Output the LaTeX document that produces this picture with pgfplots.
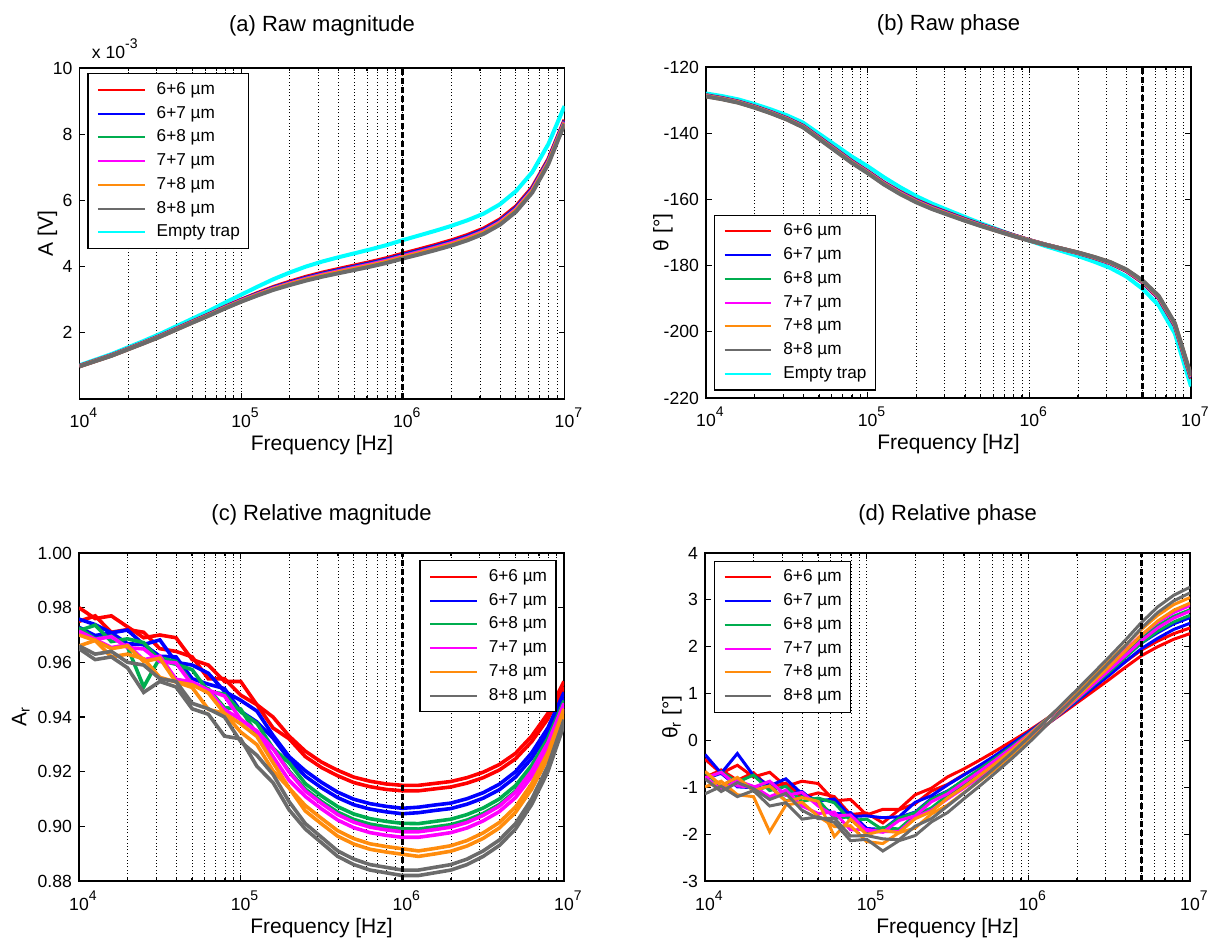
\documentclass[border=0pt]{standalone}
\usepackage{fontspec}
\setmainfont{Liberation Sans}
\usepackage{pgfplots}
\usepackage{pgfplotstable}
\pgfplotsset{compat=1.18}

\definecolor{cR}{rgb}{1,0,0}
\definecolor{cB}{rgb}{0,0,1}
\definecolor{cG}{rgb}{0,0.68,0.31}
\definecolor{cM}{rgb}{1,0,1}
\definecolor{cO}{rgb}{1,0.55,0.05}
\definecolor{cK}{rgb}{0.42,0.42,0.42}
\definecolor{cC}{rgb}{0,1,1}

\newcommand{\supx}[1]{\rlap{\raisebox{5pt}{\fontsize{7}{7}\selectfont #1}}}

% (a) raw magnitude, x 10^-3 V
\pgfplotstableread{
f r b g m o k e
1e4 0.997 0.994 0.991 0.990 0.988 0.985 1.020
1.2589e4 1.162 1.158 1.155 1.154 1.152 1.148 1.190
1.5849e4 1.326 1.322 1.318 1.317 1.314 1.310 1.360
1.9953e4 1.518 1.513 1.509 1.508 1.504 1.499 1.560
2.5119e4 1.710 1.704 1.700 1.698 1.694 1.688 1.760
3.1623e4 1.910 1.903 1.897 1.895 1.890 1.883 1.970
3.9811e4 2.128 2.120 2.113 2.111 2.105 2.097 2.200
5.0119e4 2.345 2.335 2.328 2.325 2.318 2.309 2.430
6.3096e4 2.559 2.547 2.539 2.535 2.527 2.516 2.660
7.9433e4 2.786 2.772 2.762 2.758 2.748 2.735 2.910
1e5 2.999 2.983 2.971 2.966 2.955 2.939 3.150
1.2589e5 3.199 3.179 3.165 3.159 3.145 3.126 3.390
1.5849e5 3.386 3.362 3.345 3.338 3.321 3.298 3.620
1.9953e5 3.544 3.516 3.496 3.488 3.469 3.442 3.820
2.5119e5 3.690 3.659 3.636 3.627 3.606 3.576 4.000
3.1623e5 3.816 3.783 3.759 3.749 3.726 3.694 4.150
3.9811e5 3.926 3.891 3.865 3.854 3.830 3.796 4.280
5.0119e5 4.033 3.997 3.970 3.959 3.933 3.898 4.400
6.3096e5 4.139 4.101 4.074 4.063 4.036 4.000 4.520
7.9433e5 4.255 4.216 4.187 4.176 4.148 4.111 4.650
1e6 4.392 4.352 4.322 4.310 4.282 4.243 4.800
1.2589e6 4.520 4.479 4.448 4.436 4.407 4.367 4.940
1.5849e6 4.652 4.610 4.579 4.566 4.537 4.496 5.080
1.9953e6 4.793 4.750 4.718 4.706 4.675 4.634 5.230
2.5119e6 4.956 4.913 4.880 4.867 4.837 4.795 5.400
3.1623e6 5.151 5.108 5.075 5.062 5.032 4.990 5.600
3.9811e6 5.425 5.381 5.349 5.336 5.305 5.263 5.880
5.0119e6 5.820 5.776 5.744 5.731 5.700 5.658 6.280
6.3096e6 6.391 6.349 6.317 6.305 6.275 6.234 6.850
7.9433e6 7.248 7.208 7.178 7.166 7.138 7.099 7.700
1e7 8.434 8.401 8.376 8.366 8.342 8.310 8.850
}\tabA

% (b) raw phase
\pgfplotstableread{
f r b g m o k e
1e4 -128.55 -128.64 -128.71 -128.74 -128.81 -128.90 -128.0
1.2589e4 -129.40 -129.49 -129.56 -129.59 -129.66 -129.75 -128.8
1.5849e4 -130.45 -130.54 -130.61 -130.64 -130.71 -130.80 -129.8
1.9953e4 -131.90 -132.00 -132.07 -132.11 -132.19 -132.28 -131.2
2.5119e4 -133.58 -133.68 -133.76 -133.79 -133.87 -133.97 -132.8
3.1623e4 -135.46 -135.57 -135.65 -135.69 -135.78 -135.88 -134.6
3.9811e4 -137.75 -137.87 -137.96 -138.01 -138.10 -138.22 -136.8
5.0119e4 -141.26 -141.39 -141.49 -141.54 -141.64 -141.77 -140.2
6.3096e4 -144.80 -144.94 -145.05 -145.10 -145.21 -145.35 -143.6
7.9433e4 -148.36 -148.50 -148.61 -148.67 -148.78 -148.92 -147.0
1e5 -151.52 -151.66 -151.77 -151.83 -151.94 -152.08 -150.0
1.2589e5 -154.88 -155.03 -155.15 -155.21 -155.33 -155.48 -153.3
1.5849e5 -157.72 -157.89 -158.02 -158.08 -158.22 -158.38 -156.3
1.9953e5 -160.20 -160.37 -160.51 -160.57 -160.71 -160.88 -159.0
2.5119e5 -162.29 -162.46 -162.59 -162.65 -162.79 -162.95 -161.3
3.1623e5 -164.10 -164.25 -164.37 -164.43 -164.55 -164.70 -163.3
3.9811e5 -165.91 -166.04 -166.14 -166.20 -166.30 -166.43 -165.3
5.0119e5 -167.62 -167.73 -167.81 -167.86 -167.94 -168.05 -167.2
6.3096e5 -169.22 -169.31 -169.37 -169.41 -169.48 -169.56 -169.0
7.9433e5 -170.81 -170.87 -170.92 -170.95 -171.00 -171.06 -170.8
1e6 -172.30 -172.33 -172.36 -172.38 -172.40 -172.44 -172.5
1.2589e6 -173.67 -173.68 -173.68 -173.69 -173.69 -173.70 -174.1
1.5849e6 -174.93 -174.91 -174.90 -174.89 -174.88 -174.86 -175.6
1.9953e6 -176.18 -176.14 -176.11 -176.09 -176.06 -176.02 -177.1
2.5119e6 -177.63 -177.56 -177.51 -177.49 -177.43 -177.37 -178.8
3.1623e6 -179.28 -179.19 -179.12 -179.08 -179.01 -178.92 -180.7
3.9811e6 -181.62 -181.50 -181.41 -181.37 -181.27 -181.16 -183.3
5.0119e6 -185.07 -184.92 -184.80 -184.75 -184.63 -184.48 -187.0
6.3096e6 -189.88 -189.70 -189.55 -189.48 -189.33 -189.15 -192.0
7.9433e6 -198.22 -198.01 -197.85 -197.77 -197.60 -197.40 -200.5
1e7 -214.10 -213.88 -213.71 -213.62 -213.45 -213.23 -216.5
}\tabB

% (c) relative magnitude, two traces per group
\pgfplotstableread{
f rA rB bA bB gA gB mA mB oA oB kA kB
1e4 0.980 0.975 0.9758 0.9728 0.9716 0.9726 0.9714 0.9704 0.970 0.966 0.966 0.965
1.2589e4 0.976 0.977 0.9738 0.9698 0.9736 0.9686 0.9684 0.9684 0.968 0.968 0.963 0.961
1.5849e4 0.977 0.971 0.9708 0.9708 0.9676 0.9696 0.9694 0.9654 0.965 0.962 0.964 0.962
1.9953e4 0.973 0.972 0.9718 0.9668 0.9686 0.9656 0.9654 0.9664 0.966 0.963 0.960 0.958
2.5119e4 0.969 0.971 0.9665 0.9665 0.9672 0.951 0.9649 0.9609 0.9603 0.9613 0.959 0.949
3.1623e4 0.970 0.965 0.9682 0.9622 0.9607 0.9617 0.9603 0.9623 0.9615 0.9545 0.954 0.953
3.9811e4 0.969 0.964 0.960 0.962 0.9593 0.9603 0.9598 0.9538 0.9528 0.9528 0.953 0.951
5.0119e4 0.961 0.962 0.959 0.954 0.9573 0.9523 0.9518 0.9528 0.9518 0.9508 0.945 0.943
6.3096e4 0.959 0.954 0.956 0.952 0.9493 0.9503 0.9498 0.9498 0.9488 0.9428 0.943 0.941
7.9433e4 0.953 0.954 0.9494 0.9504 0.9484 0.9434 0.9477 0.9427 0.9413 0.9413 0.940 0.933
1e5 0.953 0.948 0.9461 0.9421 0.9419 0.9429 0.9391 0.9391 0.9375 0.9345 0.931 0.932
1.2589e5 0.9445 0.9445 0.9422 0.9382 0.9377 0.9337 0.9348 0.9348 0.9329 0.9299 0.926 0.922
1.5849e5 0.940 0.936 0.9333 0.9323 0.9286 0.9286 0.9285 0.9255 0.9233 0.9203 0.919 0.916
1.9953e5 0.933 0.932 0.9255 0.9245 0.9232 0.9202 0.9198 0.9168 0.914 0.914 0.909 0.906
2.5119e5 0.9275 0.9255 0.9203 0.9183 0.9156 0.9136 0.9129 0.9109 0.9076 0.9056 0.901 0.899
3.1623e5 0.9235 0.9215 0.9161 0.9141 0.9111 0.9091 0.9084 0.9064 0.9029 0.9009 0.896 0.894
3.9811e5 0.9205 0.9185 0.9125 0.9105 0.9072 0.9052 0.9043 0.9023 0.8984 0.8964 0.891 0.889
5.0119e5 0.918 0.916 0.9099 0.9079 0.9045 0.9025 0.9015 0.8995 0.8955 0.8935 0.888 0.886
6.3096e5 0.9165 0.9145 0.9083 0.9063 0.9028 0.9008 0.8997 0.8977 0.8936 0.8916 0.886 0.884
7.9433e5 0.9155 0.9135 0.9073 0.9053 0.9018 0.8998 0.8987 0.8967 0.8926 0.8906 0.885 0.883
1e6 0.915 0.913 0.9066 0.9046 0.9011 0.8991 0.898 0.896 0.8918 0.8898 0.884 0.882
1.2589e6 0.915 0.913 0.907 0.905 0.901 0.899 0.898 0.896 0.891 0.889 0.884 0.882
1.5849e6 0.9157 0.9137 0.9078 0.9058 0.9018 0.8998 0.8988 0.8968 0.8919 0.8899 0.885 0.883
1.9953e6 0.9164 0.9144 0.9085 0.9065 0.9026 0.9006 0.8997 0.8977 0.8929 0.8909 0.886 0.884
2.5119e6 0.9178 0.9158 0.9101 0.9081 0.9043 0.9023 0.9014 0.8994 0.8948 0.8928 0.888 0.886
3.1623e6 0.9198 0.9178 0.9123 0.9103 0.9067 0.9047 0.904 0.902 0.8976 0.8956 0.891 0.889
3.9811e6 0.9226 0.9206 0.9154 0.9134 0.910 0.908 0.9074 0.9054 0.9014 0.8994 0.895 0.893
5.0119e6 0.9267 0.9247 0.920 0.918 0.9149 0.9129 0.9125 0.9105 0.9071 0.9051 0.901 0.899
6.3096e6 0.933 0.931 0.9269 0.9249 0.9223 0.9203 0.9202 0.9182 0.9156 0.9136 0.910 0.908
7.9433e6 0.9413 0.9393 0.936 0.934 0.9321 0.9301 0.9305 0.9285 0.9269 0.9249 0.922 0.920
1e7 0.953 0.951 0.949 0.947 0.946 0.944 0.945 0.943 0.943 0.941 0.939 0.937
}\tabC

% (d) relative phase, two traces per group
\pgfplotstableread{
f rA rB bA bB gA gB mA mB oA oB kA kB
1e4 -0.40 -0.79 -0.30 -0.82 -0.83 -0.68 -0.80 -0.78 -0.66 -0.99 -0.82 -1.14
1.2589e4 -0.70 -0.63 -0.70 -0.70 -0.67 -0.98 -0.68 -1.05 -0.96 -0.87 -1.09 -0.98
1.5849e4 -0.53 -0.85 -0.28 -0.99 -0.89 -0.81 -0.97 -0.86 -0.79 -1.16 -0.90 -1.20
1.9953e4 -0.78 -0.69 -0.75 -1.01 -0.74 -1.07 -1.00 -0.98 -1.07 -1.20 -1.03 -1.07
2.5119e4 -0.68 -1.01 -0.97 -0.88 -1.07 -0.98 -0.87 -1.20 -0.97 -1.95 -1.26 -1.40
3.1623e4 -0.98 -0.91 -0.82 -1.17 -0.98 -1.29 -1.17 -1.06 -1.30 -1.38 -1.13 -1.33
3.9811e4 -0.87 -1.21 -1.14 -1.09 -1.30 -1.20 -1.11 -1.40 -1.22 -1.32 -1.49 -1.68
5.0119e4 -0.92 -1.12 -1.29 -1.37 -1.23 -1.27 -1.40 -1.56 -1.30 -1.62 -1.67 -1.63
6.3096e4 -1.29 -1.20 -1.25 -1.57 -1.33 -1.66 -1.61 -1.53 -2.05 -1.84 -1.66 -1.75
7.9433e4 -1.26 -1.58 -1.62 -1.54 -1.71 -1.63 -1.59 -1.91 -1.68 -1.82 -2.04 -2.14
1e5 -1.59 -1.55 -1.61 -1.88 -1.68 -1.96 -1.93 -1.90 -2.01 -2.16 -2.03 -2.11
1.2589e5 -1.47 -1.76 -1.65 -1.90 -1.91 -1.86 -1.96 -1.95 -1.92 -2.20 -2.10 -2.36
1.5849e5 -1.47 -1.48 -1.63 -1.64 -1.66 -1.89 -1.71 -1.94 -1.97 -1.97 -2.12 -2.14
1.9953e5 -1.16 -1.35 -1.32 -1.53 -1.54 -1.59 -1.61 -1.64 -1.67 -1.87 -1.83 -2.03
2.5119e5 -1.02 -1.08 -1.18 -1.24 -1.26 -1.44 -1.31 -1.49 -1.52 -1.57 -1.67 -1.74
3.1623e5 -0.78 -0.94 -0.95 -1.08 -1.09 -1.17 -1.14 -1.25 -1.23 -1.38 -1.40 -1.54
3.9811e5 -0.61 -0.73 -0.74 -0.86 -0.84 -0.96 -0.90 -1.02 -1.00 -1.12 -1.13 -1.25
5.0119e5 -0.42 -0.54 -0.53 -0.65 -0.61 -0.73 -0.66 -0.78 -0.74 -0.86 -0.85 -0.97
6.3096e5 -0.22 -0.34 -0.31 -0.43 -0.37 -0.49 -0.41 -0.53 -0.48 -0.60 -0.56 -0.68
7.9433e5 -0.01 -0.13 -0.07 -0.19 -0.12 -0.24 -0.15 -0.27 -0.20 -0.32 -0.26 -0.38
1e6 0.20 0.08 0.17 0.05 0.14 0.02 0.12 0.00 0.10 -0.02 0.06 -0.06
1.2589e6 0.43 0.31 0.42 0.30 0.42 0.30 0.41 0.29 0.41 0.29 0.40 0.28
1.5849e6 0.67 0.55 0.69 0.57 0.70 0.58 0.71 0.59 0.72 0.60 0.74 0.62
1.9953e6 0.92 0.80 0.96 0.84 0.99 0.87 1.01 0.89 1.04 0.92 1.08 0.96
2.5119e6 1.17 1.05 1.24 1.12 1.29 1.17 1.31 1.19 1.37 1.25 1.43 1.31
3.1623e6 1.42 1.30 1.51 1.39 1.58 1.46 1.62 1.50 1.69 1.57 1.78 1.66
3.9811e6 1.68 1.56 1.80 1.68 1.89 1.77 1.93 1.81 2.03 1.91 2.14 2.02
5.0119e6 1.93 1.81 2.08 1.96 2.20 2.08 2.25 2.13 2.37 2.25 2.52 2.40
6.3096e6 2.12 2.00 2.30 2.18 2.45 2.33 2.52 2.40 2.67 2.55 2.85 2.73
7.9433e6 2.28 2.16 2.49 2.37 2.65 2.53 2.73 2.61 2.90 2.78 3.10 2.98
1e7 2.40 2.28 2.62 2.50 2.79 2.67 2.88 2.76 3.05 2.93 3.27 3.15
}\tabD

\pgfplotsset{every axis/.append style={
    scale only axis, width=242.5pt,
    xmin=1e4, xmax=1e7,
    clip mode=individual,
    xtick={1e4,1e5,1e6,1e7},
    xticklabels={10\supx{4},10\supx{5},10\supx{6},10\supx{7}},
    minor xtick={2e4,3e4,4e4,5e4,6e4,7e4,8e4,9e4,2e5,3e5,4e5,5e5,6e5,7e5,8e5,9e5,2e6,3e6,4e6,5e6,6e6,7e6,8e6,9e6},
    xmajorgrids=true, xminorgrids=true,
    major grid style={black, line width=0.45pt, dash pattern=on 0.5pt off 1.2pt},
    minor grid style={black, line width=0.45pt, dash pattern=on 0.5pt off 1.2pt},
    axis line style={line width=0.9pt},
    tick style={black, line width=0.6pt},
    major tick length=2.8pt, minor tick length=1.6pt,
    tick align=inside,
    ticklabel style={font=\fontsize{8.8}{10}\selectfont},
    xticklabel style={anchor=base, yshift=-14.5pt},
    label style={font=\fontsize{10.5}{12}\selectfont},
    title style={font=\fontsize{11}{13}\selectfont, at={(0.5,1)}, anchor=base},
    xlabel={Frequency [Hz]},
    xlabel style={at={(axis description cs:0.5,0)}, anchor=base, yshift=-26pt},
    legend cell align=left,
    legend image code/.code={\draw[#1,line width=1pt] (0pt,0pt) -- (23.4pt,0pt);},
    legend style={font=\fontsize{8.6}{10}\selectfont, draw=black, line width=0.6pt, fill=white,
      inner xsep=4.5pt, inner ysep=2.3pt, row sep=0.4pt, column sep=5.5pt,
      nodes={inner xsep=0pt}},
  }}

\begin{document}
\begin{tikzpicture}
\useasboundingbox (0,0) rectangle (607.5pt,471pt);

% ---------------- (a)
\begin{semilogxaxis}[at={(39.75pt,271.5pt)}, anchor=south west, height=165.5pt,
  ymin=0, ymax=10, ytick={2,4,6,8,10}, yticklabels={2,4,6,8,10},
  ylabel={A [V]}, ylabel style={at={(axis description cs:-0.066,0.5)}, anchor=center},
  title={(a) Raw magnitude}, title style={yshift=12pt},
  legend style={at={(axis description cs:0,1)}, anchor=north west, xshift=3.9pt, yshift=-2.5pt}]
\addplot[cC, line width=2pt, forget plot] table[x=f,y=e]{\tabA};
\addplot[cR, line width=2pt] table[x=f,y=r]{\tabA}; \addlegendentry{6+6 µm}
\addplot[cB, line width=2pt] table[x=f,y=b]{\tabA}; \addlegendentry{6+7 µm}
\addplot[cG, line width=2pt] table[x=f,y=g]{\tabA}; \addlegendentry{6+8 µm}
\addplot[cM, line width=2pt] table[x=f,y=m]{\tabA}; \addlegendentry{7+7 µm}
\addplot[cO, line width=2pt] table[x=f,y=o]{\tabA}; \addlegendentry{7+8 µm}
\addplot[cK, line width=2pt] table[x=f,y=k]{\tabA}; \addlegendentry{8+8 µm}
\addlegendimage{cC, line width=1pt}\addlegendentry{Empty trap}
\addplot[black, line width=1.6pt, dash pattern=on 3pt off 1.5pt, forget plot] coordinates {(1e6,0) (1e6,10)};
\node[anchor=base west, xshift=2.7pt, yshift=4.5pt, font=\fontsize{8.8}{10}\selectfont] at (axis description cs:0,1) {x 10\supx{-3}};
\end{semilogxaxis}

% ---------------- (b)
\begin{semilogxaxis}[at={(353pt,272pt)}, anchor=south west, height=165.5pt,
  ymin=-220, ymax=-120, ytick={-220,-200,-180,-160,-140,-120},
  yticklabels={-220,-200,-180,-160,-140,-120},
  ylabel={θ [°]}, ylabel style={at={(axis description cs:-0.089,0.5)}, anchor=center},
  title={(b) Raw phase}, title style={yshift=12pt},
  legend style={at={(axis description cs:0,0)}, anchor=south west, xshift=4pt, yshift=3.7pt}]
\addplot[cC, line width=2pt, forget plot] table[x=f,y=e]{\tabB};
\addplot[cR, line width=2pt] table[x=f,y=r]{\tabB}; \addlegendentry{6+6 µm}
\addplot[cB, line width=2pt] table[x=f,y=b]{\tabB}; \addlegendentry{6+7 µm}
\addplot[cG, line width=2pt] table[x=f,y=g]{\tabB}; \addlegendentry{6+8 µm}
\addplot[cM, line width=2pt] table[x=f,y=m]{\tabB}; \addlegendentry{7+7 µm}
\addplot[cO, line width=2pt] table[x=f,y=o]{\tabB}; \addlegendentry{7+8 µm}
\addplot[cK, line width=2pt] table[x=f,y=k]{\tabB}; \addlegendentry{8+8 µm}
\addlegendimage{cC, line width=1pt}\addlegendentry{Empty trap}
\addplot[black, line width=1.6pt, dash pattern=on 3pt off 1.5pt, forget plot] coordinates {(5e6,-220) (5e6,-120)};
\end{semilogxaxis}

% ---------------- (c)
\begin{semilogxaxis}[at={(39.5pt,30.5pt)}, anchor=south west, height=164pt,
  ymin=0.88, ymax=1.00, ytick={0.88,0.90,0.92,0.94,0.96,0.98,1.00},
  yticklabels={0.88,0.90,0.92,0.94,0.96,0.98,1.00},
  ylabel={A\textsubscript{r}}, ylabel style={at={(axis description cs:-0.12,0.5)}, anchor=center},
  title={(c) Relative magnitude}, title style={yshift=10pt},
  legend style={at={(axis description cs:1,1)}, anchor=north east, xshift=-3.7pt, yshift=-3.5pt}]
\addplot[cR, line width=1.8pt] table[x=f,y=rA]{\tabC}; \addlegendentry{6+6 µm}
\addplot[cR, line width=1.8pt, forget plot] table[x=f,y=rB]{\tabC};
\addplot[cB, line width=1.8pt] table[x=f,y=bA]{\tabC}; \addlegendentry{6+7 µm}
\addplot[cB, line width=1.8pt, forget plot] table[x=f,y=bB]{\tabC};
\addplot[cG, line width=1.8pt] table[x=f,y=gA]{\tabC}; \addlegendentry{6+8 µm}
\addplot[cG, line width=1.8pt, forget plot] table[x=f,y=gB]{\tabC};
\addplot[cM, line width=1.8pt] table[x=f,y=mA]{\tabC}; \addlegendentry{7+7 µm}
\addplot[cM, line width=1.8pt, forget plot] table[x=f,y=mB]{\tabC};
\addplot[cO, line width=1.8pt] table[x=f,y=oA]{\tabC}; \addlegendentry{7+8 µm}
\addplot[cO, line width=1.8pt, forget plot] table[x=f,y=oB]{\tabC};
\addplot[cK, line width=1.8pt] table[x=f,y=kA]{\tabC}; \addlegendentry{8+8 µm}
\addplot[cK, line width=1.8pt, forget plot] table[x=f,y=kB]{\tabC};
\addplot[black, line width=1.6pt, dash pattern=on 3pt off 1.5pt, forget plot] coordinates {(1e6,0.88) (1e6,1.00)};
\end{semilogxaxis}

% ---------------- (d)
\begin{semilogxaxis}[at={(352.5pt,30.5pt)}, anchor=south west, height=164pt,
  ymin=-3, ymax=4, ytick={-3,-2,-1,0,1,2,3,4}, yticklabels={-3,-2,-1,0,1,2,3,4},
  ylabel={θ\textsubscript{r} [°]}, ylabel style={at={(axis description cs:-0.068,0.5)}, anchor=center},
  title={(d) Relative phase}, title style={yshift=10pt},
  legend style={at={(axis description cs:0,1)}, anchor=north west, xshift=4.5pt, yshift=-3.8pt}]
\addplot[cR, line width=1.5pt] table[x=f,y=rA]{\tabD}; \addlegendentry{6+6 µm}
\addplot[cR, line width=1.5pt, forget plot] table[x=f,y=rB]{\tabD};
\addplot[cB, line width=1.5pt] table[x=f,y=bA]{\tabD}; \addlegendentry{6+7 µm}
\addplot[cB, line width=1.5pt, forget plot] table[x=f,y=bB]{\tabD};
\addplot[cG, line width=1.5pt] table[x=f,y=gA]{\tabD}; \addlegendentry{6+8 µm}
\addplot[cG, line width=1.5pt, forget plot] table[x=f,y=gB]{\tabD};
\addplot[cM, line width=1.5pt] table[x=f,y=mA]{\tabD}; \addlegendentry{7+7 µm}
\addplot[cM, line width=1.5pt, forget plot] table[x=f,y=mB]{\tabD};
\addplot[cO, line width=1.5pt] table[x=f,y=oA]{\tabD}; \addlegendentry{7+8 µm}
\addplot[cO, line width=1.5pt, forget plot] table[x=f,y=oB]{\tabD};
\addplot[cK, line width=1.5pt] table[x=f,y=kA]{\tabD}; \addlegendentry{8+8 µm}
\addplot[cK, line width=1.5pt, forget plot] table[x=f,y=kB]{\tabD};
\addplot[black, line width=1.6pt, dash pattern=on 3pt off 1.5pt, forget plot] coordinates {(5e6,-3) (5e6,4)};
\end{semilogxaxis}
\end{tikzpicture}
\end{document}
